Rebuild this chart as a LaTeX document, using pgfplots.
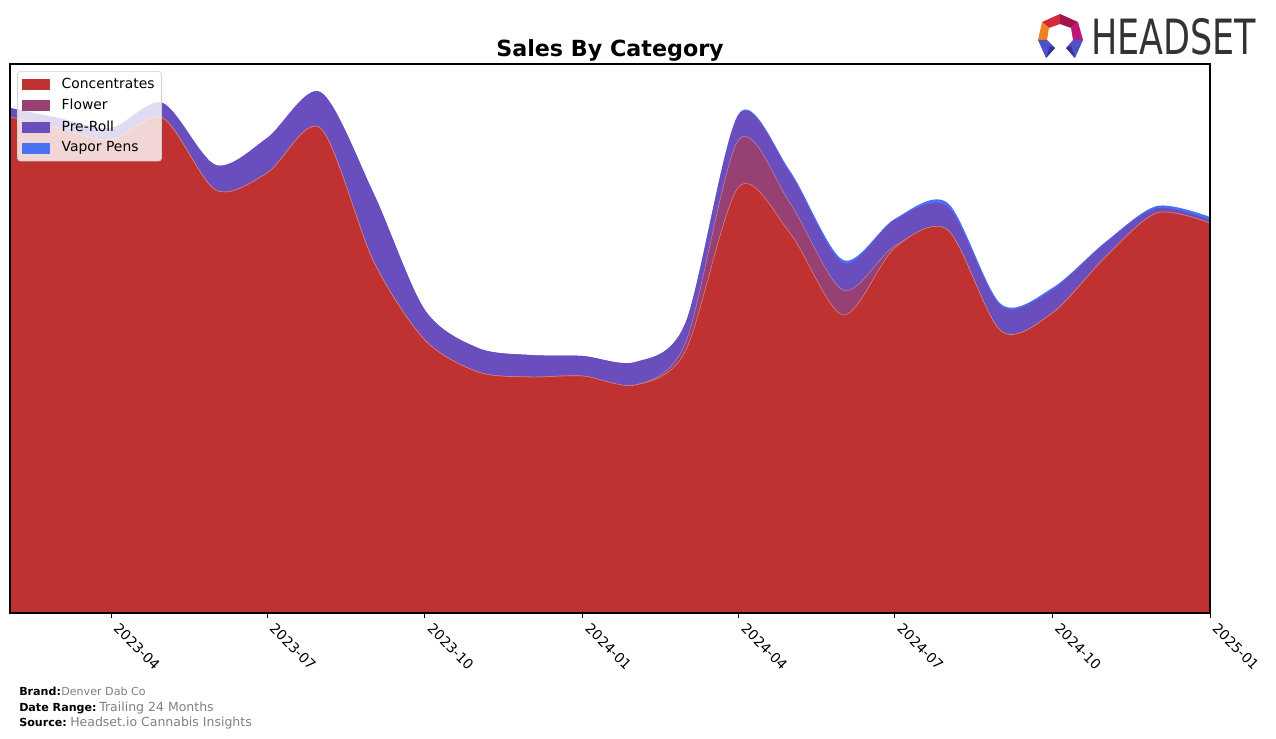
\documentclass[border=0pt]{standalone}
\usepackage{fontspec}
\setmainfont{DejaVu Sans}
\usepackage{pgfplots}
\usepackage{pgfplotstable}
\pgfplotsset{compat=1.18}

\definecolor{cC}{RGB}{192,50,50}
\definecolor{cF}{RGB}{151,64,116}
\definecolor{cP}{RGB}{106,78,190}
\definecolor{cV}{RGB}{74,114,245}
\definecolor{footgray}{RGB}{128,128,128}
\definecolor{logogray}{RGB}{51,51,51}
\definecolor{lg1}{RGB}{212,40,60}
\definecolor{lg2}{RGB}{160,22,74}
\definecolor{lg3}{RGB}{240,128,36}
\definecolor{lg4}{RGB}{190,24,120}
\definecolor{lg5}{RGB}{80,80,200}
\definecolor{lg6}{RGB}{50,50,150}

% day = days since 2023-02-01; values in chart units (pixels of height)
\pgfplotstableread{
day C F P V
0 496 0 9 0
28 485 0 10 0
59 473 0 12 0
89 495 0 15 0
120 423 0 25 0
150 440 0 35 0
181 485 0 36 0
212 352 0 68 0
242 273 0 30 0
273 241 0 24 0
303 236 0 22 0
334 237 0 20 0
365 228 0 23 0
394 262 8 20 0
425 426 47 25 1
455 380 30 30 2
486 298 25 27 3
516 365 2 26 1
547 383 0 23 4
578 282 0 25 2
608 300 0 23 2
639 356 0 14 1
669 400 0 5 2
700 390 0 3 3
}\datatable

\begin{document}
\begin{tikzpicture}[x=0.72pt,y=0.72pt]
\path[use as bounding box] (0,0) rectangle (1276,739);

\begin{axis}[
  at={(7.2pt,90.72pt)}, anchor=south west,
  width=864pt, height=395.28pt, scale only axis,
  xmin=0, xmax=700, ymin=0, ymax=549,
  ytick=\empty,
  xtick={59,150,242,334,425,516,608,700},
  xticklabels={2023-04,2023-07,2023-10,2024-01,2024-04,2024-07,2024-10,2025-01},
  xtick pos=left,
  tick align=outside, major tick length=3.5pt,
  tick style={black, line width=0.6pt},
  x tick label style={font=\fontsize{10}{12}\selectfont, inner sep=1pt, xshift=6.5pt, yshift=-1.5pt, rotate=-45, anchor=north west},
  axis line style={line width=0.8pt},
  axis on top,
  legend cell align=left,
  legend style={at={(0.006,0.987)}, anchor=north west,
    font=\fontsize{10}{12}\selectfont,
    draw=black!18, fill=white, fill opacity=0.8, text opacity=1, draw opacity=1,
    rounded corners=2pt, row sep=2.2pt, column sep=7pt, inner sep=3pt,
    nodes={inner sep=2pt}},
]
\addlegendimage{legend image code/.code={\fill[cC, fill opacity=1, sharp corners] (0pt,-3.6pt) rectangle (19.44pt,3.6pt);}}
\addlegendimage{legend image code/.code={\fill[cF, fill opacity=1, sharp corners] (0pt,-3.6pt) rectangle (19.44pt,3.6pt);}}
\addlegendimage{legend image code/.code={\fill[cP, fill opacity=1, sharp corners] (0pt,-3.6pt) rectangle (19.44pt,3.6pt);}}
\addlegendimage{legend image code/.code={\fill[cV, fill opacity=1, sharp corners] (0pt,-3.6pt) rectangle (19.44pt,3.6pt);}}

\addplot[forget plot, smooth, fill=cV, draw=none]
  table[x=day, y expr=\thisrow{C}+\thisrow{F}+\thisrow{P}+\thisrow{V}] {\datatable} \closedcycle;
\addplot[forget plot, smooth, fill=cP, draw=none]
  table[x=day, y expr=\thisrow{C}+\thisrow{F}+\thisrow{P}] {\datatable} \closedcycle;
\addplot[forget plot, smooth, fill=cF, draw=white!35!cF, line width=0.4pt]
  table[x=day, y expr=\thisrow{C}+\thisrow{F}] {\datatable} \closedcycle;
\addplot[forget plot, smooth, fill=cC, draw=white!40!cC, line width=0.4pt]
  table[x=day, y=C] {\datatable} \closedcycle;

\legend{Concentrates,Flower,Pre-Roll,Vapor Pens}
\end{axis}

% title
\node[anchor=base, font=\bfseries\fontsize{16}{19}\selectfont] at (610,682) {Sales By Category};

% footer
\node[anchor=base west, inner sep=0pt, font=\bfseries\fontsize{8}{10}\selectfont] at (19,43) {Brand:};
\node[anchor=base west, inner sep=0pt, font=\fontsize{8}{10}\selectfont, text=footgray] at (61,43) {Denver Dab Co};
\node[anchor=base west, inner sep=0pt, font=\bfseries\fontsize{8}{10}\selectfont] at (19,27) {Date Range:};
\node[anchor=base west, inner sep=0pt, font=\fontsize{9}{11}\selectfont, text=footgray] at (99,27) {Trailing 24 Months};
\node[anchor=base west, inner sep=0pt, font=\bfseries\fontsize{8}{10}\selectfont] at (19,12) {Source:};
\node[anchor=base west, inner sep=0pt, font=\fontsize{9}{11}\selectfont, text=footgray] at (70,12) {Headset.io Cannabis Insights};

% logo icon
\fill[lg1] (1042,717) -- (1060,725) -- (1060,715) -- (1049,711) -- cycle;
\fill[lg2] (1060,725) -- (1078,717) -- (1071,711) -- (1060,715) -- cycle;
\fill[lg3] (1038,699) -- (1042,717) -- (1049,711) -- (1047,699) -- cycle;
\fill[lg4] (1078,717) -- (1083,699) -- (1073,699) -- (1071,711) -- cycle;
\fill[lg5] (1038,699) -- (1047,699) -- (1055,691) -- (1046,681) -- cycle;
\fill[lg6] (1046,681) -- (1055,691) -- (1050,693) -- cycle;
\fill[lg5] (1073,699) -- (1083,699) -- (1075,681) -- (1066,691) -- cycle;
\fill[lg6] (1075,681) -- (1066,691) -- (1071,693) -- cycle;
\node[anchor=base west, inner sep=0pt, text=logogray, font=\fontsize{35}{35}\selectfont, xscale=0.72] at (1091,684) {HEADSET};
\end{tikzpicture}
\end{document}
